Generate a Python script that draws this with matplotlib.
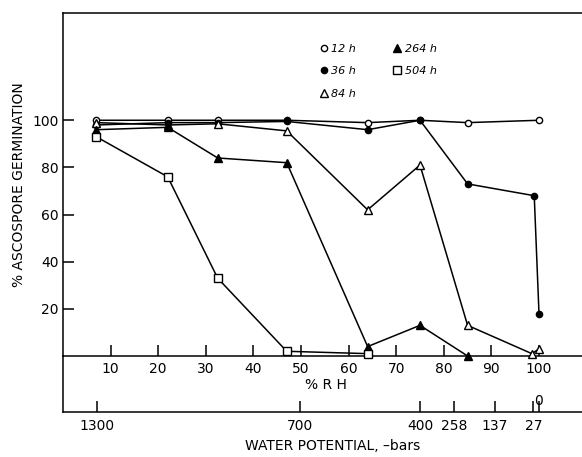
import numpy as np
import matplotlib
matplotlib.use('Agg')
import matplotlib.pyplot as plt


# germination (%) against relative humidity for each incubation time
rh_12 = [7, 22, 32.5, 47, 64, 75, 85, 100]
germ_12 = [100, 100, 100, 100, 99, 100, 99, 100]
rh_36 = [7, 22, 32.5, 47, 64, 75, 85, 99, 100]
germ_36 = [98, 99, 99, 99.5, 96, 100, 73, 68, 18]
rh_84 = [7, 22, 32.5, 47, 64, 75, 85, 98.5, 100]
germ_84 = [99, 98, 98.5, 95.5, 62, 81, 13, 1, 3]
rh_264 = [7, 22, 32.5, 47, 64, 75, 85]
germ_264 = [96, 97, 84, 82, 4, 13, 0]
rh_504 = [7, 22, 32.5, 47, 64]
germ_504 = [93, 76, 33, 2, 1]

rh_ticks = [10, 20, 30, 40, 50, 60, 70, 80, 90, 100]
germ_ticks = [20, 40, 60, 80, 100]

# water potential scale, placed at the matching %RH
wp_rh = [7.2, 49.7, 75, 82.1, 90.7, 98.8, 100]
wp_labels = ['1300', '700', '400', '258', '137', '27', '']


def germination_plot():
  plt.rcParams['font.family'] = 'DejaVu Sans'
  fig = plt.figure(figsize=(5.82, 4.57), dpi=100)
  # right edge runs past the figure so only the open frame shows
  ax = fig.add_axes([63 / 582, 101 / 457, 540 / 582, 343 / 457])

  style = dict(color='black', lw=1.1, clip_on=False, zorder=3)
  ax.plot(rh_12, germ_12, marker='o', ms=4.5, mfc='white', mec='black',
          label='12 h', **style)
  ax.plot(rh_36, germ_36, marker='o', ms=4.5, mfc='black', mec='black',
          label='36 h', **style)
  ax.plot(rh_84, germ_84, marker='^', ms=5.5, mfc='white', mec='black',
          label='84 h', **style)
  ax.plot(rh_264, germ_264, marker='^', ms=5.5, mfc='black', mec='black',
          label='264 h', **style)
  ax.plot(rh_504, germ_504, marker='s', ms=5.5, mfc='white', mec='black',
          label='504 h', **style)

  ax.set_xlim(0, 540 / 4.76)
  ax.set_ylim(0, 145.5)
  ax.set_xticks(rh_ticks)
  ax.set_yticks(germ_ticks)
  ax.tick_params(direction='in', length=8, width=1.1, labelsize=10,
                 color='black')
  ax.tick_params(axis='x', pad=4)
  ax.tick_params(axis='y', pad=3)
  for s in ax.spines.values():
    s.set_linewidth(1.1)
  ax.spines['right'].set_visible(False)
  ax.set_ylabel('% ASCOSPORE GERMINATION', fontsize=10, labelpad=5)

  # water potential axis under the %RH axis
  loc = (356 - 412) / 343
  wp = ax.secondary_xaxis(loc)
  wp.set_xticks(wp_rh)
  wp.set_xticklabels(wp_labels)
  wp.tick_params(direction='in', length=8, width=1.1, labelsize=10, pad=5)
  wp.spines['bottom'].set_linewidth(1.1)
  wp.set_xlabel('WATER POTENTIAL, \u2013bars', fontsize=10, labelpad=4)
  ax.plot([0, 0], [0, loc], transform=ax.transAxes, color='black', lw=1.1,
          clip_on=False)

  ax.text((326 - 63) / 540, -29 / 343, '% R H', transform=ax.transAxes,
          ha='center', va='center', fontsize=10)
  ax.text(100, -0.13, '0', transform=ax.get_xaxis_transform(),
          ha='center', va='center', fontsize=10)

  ax.legend(ncol=2, loc='upper left', bbox_to_anchor=(318 / 582, 1 - 38 / 457),
            bbox_transform=fig.transFigure, frameon=False, handlelength=0,
            handletextpad=0.7, labelspacing=1.15, columnspacing=3.7,
            borderpad=0, prop={'style': 'italic', 'size': 8})

  fig.savefig('out.png', dpi=100)


if __name__ == '__main__':
  germination_plot()
